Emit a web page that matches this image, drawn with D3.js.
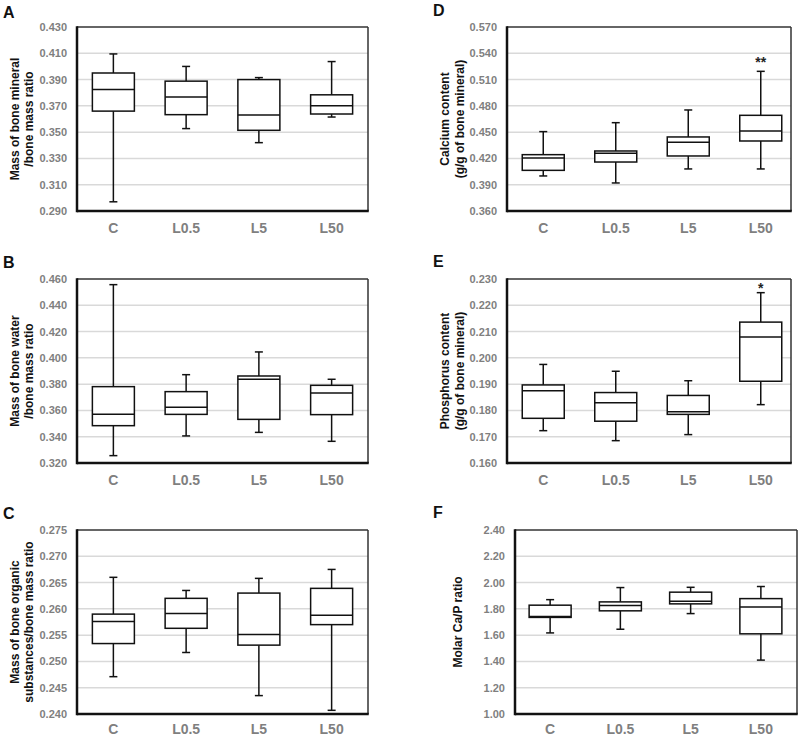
<!DOCTYPE html>
<html>
<head>
<meta charset="utf-8">
<script src="https://cdn.jsdelivr.net/npm/d3@7"></script>
<style>
  html, body { margin: 0; padding: 0; background: #fff; }
  svg { display: block; font-family: Arial, "Liberation Sans", sans-serif; }
</style>
</head>
<body>
<svg id="chart" width="800" height="736"></svg>
<script>
// ---- Data ----
const categories = ["C", "L0.5", "L5", "L50"];

// five-number summaries per group: [min, q1, median, q3, max]
const mineralStats = [
  [0.297, 0.366, 0.3825, 0.395, 0.4095],
  [0.3527, 0.3633, 0.3767, 0.3888, 0.400],
  [0.342, 0.3514, 0.363, 0.390, 0.3915],
  [0.3615, 0.3638, 0.370, 0.3784, 0.4037]
];
const waterStats = [
  [0.3256, 0.3484, 0.357, 0.3781, 0.4557],
  [0.3406, 0.357, 0.3624, 0.3743, 0.3872],
  [0.3433, 0.3532, 0.3837, 0.3862, 0.4045],
  [0.3365, 0.3568, 0.3733, 0.3791, 0.3837]
];
const organicStats = [
  [0.2471, 0.2534, 0.2576, 0.2590, 0.2660],
  [0.2517, 0.2563, 0.2591, 0.2620, 0.2635],
  [0.2435, 0.2531, 0.2551, 0.2630, 0.2658],
  [0.2407, 0.2570, 0.2588, 0.2639, 0.2675]
];
const calciumStats = [
  [0.400, 0.4064, 0.4205, 0.4243, 0.4506],
  [0.392, 0.4159, 0.4258, 0.4285, 0.4608],
  [0.408, 0.4228, 0.4384, 0.4445, 0.4753],
  [0.408, 0.4399, 0.4513, 0.4692, 0.5194]
];
const phosphorusStats = [
  [0.1723, 0.177, 0.1875, 0.1897, 0.1975],
  [0.1685, 0.1759, 0.1829, 0.1868, 0.1949],
  [0.1708, 0.1785, 0.1795, 0.1857, 0.1913],
  [0.1822, 0.1911, 0.2079, 0.2136, 0.2248]
];
const caPStats = [
  [1.617, 1.735, 1.741, 1.828, 1.870],
  [1.645, 1.785, 1.825, 1.853, 1.962],
  [1.764, 1.838, 1.858, 1.927, 1.964],
  [1.410, 1.610, 1.815, 1.878, 1.970]
];

// tick labels
const ticksA = [0.290, 0.310, 0.330, 0.350, 0.370, 0.390, 0.410, 0.430];
const ticksB = [0.320, 0.340, 0.360, 0.380, 0.400, 0.420, 0.440, 0.460];
const ticksC = [0.240, 0.245, 0.250, 0.255, 0.260, 0.265, 0.270, 0.275];
const ticksD = [0.360, 0.390, 0.420, 0.450, 0.480, 0.510, 0.540, 0.570];
const ticksE = [0.160, 0.170, 0.180, 0.190, 0.200, 0.210, 0.220, 0.230];
const ticksF = [1.00, 1.20, 1.40, 1.60, 1.80, 2.00, 2.20, 2.40];

// significance marks per group
const sigD = ["", "", "", "**"];
const sigE = ["", "", "", "*"];

// ---- Layout ----
const panels = [
  { letter: "A", stats: mineralStats, ticks: ticksA, fmt: ".3f", sig: null, sigOff: 0, xPad: 12,
    title: ["Mass of bone mineral", "/bone mass ratio"],
    fx: [77, 368], bx: [77, 368], fy: [27, 211], lx: 3, ly: 18, tx: [19, 33] },
  { letter: "B", stats: waterStats, ticks: ticksB, fmt: ".3f", sig: null, sigOff: 0, xPad: 12,
    title: ["Mass of bone water", "/bone mass ratio"],
    fx: [77, 368], bx: [77, 368], fy: [279, 463], lx: 3, ly: 268, tx: [19, 33] },
  { letter: "C", stats: organicStats, ticks: ticksC, fmt: ".3f", sig: null, sigOff: 0, xPad: 10,
    title: ["Mass of bone organic", "substances/bone mass ratio"],
    fx: [77, 368], bx: [77, 368], fy: [530, 714], lx: 3, ly: 519, tx: [19, 33] },
  { letter: "D", stats: calciumStats, ticks: ticksD, fmt: ".3f", sig: sigD, sigOff: -4, xPad: 12,
    title: ["Calcium content", "(g/g of bone mineral)"],
    fx: [507, 791], bx: [507, 797], fy: [27, 211], lx: 433, ly: 16, tx: [449, 464] },
  { letter: "E", stats: phosphorusStats, ticks: ticksE, fmt: ".3f", sig: sigE, sigOff: 0, xPad: 12,
    title: ["Phosphorus content", "(g/g of bone mineral)"],
    fx: [507, 791], bx: [507, 797], fy: [279, 463], lx: 433, ly: 267, tx: [449, 464] },
  { letter: "F", stats: caPStats, ticks: ticksF, fmt: ".2f", sig: null, sigOff: 0, xPad: 10,
    title: ["Molar Ca/P ratio"],
    fx: [515, 797], bx: [515, 796], fy: [530, 714], lx: 433, ly: 518, tx: [462] }
];

const svg = d3.select("#chart");
const tickColor = "#7f7f7f";
const boxW = 42, capW = 8;

panels.forEach(p => {
  const g = svg.append("g");
  const ticks = p.ticks;
  const y = d3.scaleLinear().domain([ticks[0], ticks[ticks.length - 1]]).range([p.fy[1], p.fy[0]]);
  const x = d3.scaleBand().domain(categories).range(p.bx).padding(0);

  // gridlines
  g.selectAll("line.grid").data(ticks.slice(1, -1)).enter().append("line")
    .attr("x1", p.fx[0]).attr("x2", p.fx[1])
    .attr("y1", d => y(d)).attr("y2", d => y(d))
    .attr("stroke", "#d9d9d9").attr("stroke-width", 1.5);

  // y axis labels
  const yAxis = d3.axisLeft(y).tickValues(ticks).tickFormat(d3.format(p.fmt)).tickSize(0).tickPadding(10);
  const ya = g.append("g").attr("transform", `translate(${p.fx[0]},0)`).call(yAxis);
  ya.select(".domain").remove();
  ya.selectAll("text").attr("fill", tickColor).attr("font-size", 11).attr("font-weight", "bold")
    .attr("font-family", "Arial, 'Liberation Sans', sans-serif");

  // x axis labels
  const xAxis = d3.axisBottom(x).tickSize(0).tickPadding(p.xPad);
  const xa = g.append("g").attr("transform", `translate(0,${p.fy[1]})`).call(xAxis);
  xa.select(".domain").remove();
  xa.selectAll("text").attr("fill", tickColor).attr("font-size", 14).attr("font-weight", "bold")
    .attr("font-family", "Arial, 'Liberation Sans', sans-serif");

  // frame
  g.append("line").attr("x1", p.fx[0]).attr("x2", p.fx[1]).attr("y1", p.fy[0]).attr("y2", p.fy[0])
    .attr("stroke", "#333").attr("stroke-width", 1.5);
  g.append("line").attr("x1", p.fx[1]).attr("x2", p.fx[1]).attr("y1", p.fy[0]).attr("y2", p.fy[1])
    .attr("stroke", "#333").attr("stroke-width", 1.5);
  g.append("line").attr("x1", p.fx[0]).attr("x2", p.fx[0]).attr("y1", p.fy[0] - 0.75).attr("y2", p.fy[1] + 1.25)
    .attr("stroke", "#111").attr("stroke-width", 2.5);
  g.append("line").attr("x1", p.fx[0]).attr("x2", p.fx[1] + 0.75).attr("y1", p.fy[1]).attr("y2", p.fy[1])
    .attr("stroke", "#111").attr("stroke-width", 2.5);

  // boxes
  const groups = g.selectAll("g.box").data(p.stats).enter().append("g")
    .attr("transform", (d, i) => `translate(${x(categories[i]) + x.bandwidth() / 2},0)`);
  // whiskers
  groups.append("line").attr("x1", 0).attr("x2", 0).attr("y1", d => y(d[4])).attr("y2", d => y(d[3]))
    .attr("stroke", "#111").attr("stroke-width", 1.5);
  groups.append("line").attr("x1", 0).attr("x2", 0).attr("y1", d => y(d[1])).attr("y2", d => y(d[0]))
    .attr("stroke", "#111").attr("stroke-width", 1.5);
  // caps
  groups.append("line").attr("x1", -capW / 2).attr("x2", capW / 2).attr("y1", d => y(d[4])).attr("y2", d => y(d[4]))
    .attr("stroke", "#111").attr("stroke-width", 1.5);
  groups.append("line").attr("x1", -capW / 2).attr("x2", capW / 2).attr("y1", d => y(d[0])).attr("y2", d => y(d[0]))
    .attr("stroke", "#111").attr("stroke-width", 1.5);
  // box
  groups.append("rect").attr("x", -boxW / 2).attr("width", boxW)
    .attr("y", d => y(d[3])).attr("height", d => y(d[1]) - y(d[3]))
    .attr("fill", "#fff").attr("stroke", "#111").attr("stroke-width", 1.5);
  // median
  groups.append("line").attr("x1", -boxW / 2).attr("x2", boxW / 2).attr("y1", d => y(d[2])).attr("y2", d => y(d[2]))
    .attr("stroke", "#111").attr("stroke-width", 1.5);

  // significance
  if (p.sig) {
    groups.append("text").attr("text-anchor", "middle")
      .attr("x", 0).attr("y", d => y(d[4]) + p.sigOff)
      .attr("font-size", 14).attr("font-weight", "bold").attr("fill", "#222")
      .text((d, i) => p.sig[i]);
  }

  // y title
  const cy = (p.fy[0] + p.fy[1]) / 2;
  p.title.forEach((t, k) => {
    g.append("text").attr("transform", `translate(${p.tx[k]},${cy}) rotate(-90)`)
      .attr("text-anchor", "middle").attr("font-size", 12).attr("font-weight", "bold").attr("fill", "#111")
      .text(t);
  });

  // panel letter
  g.append("text").attr("x", p.lx).attr("y", p.ly).attr("font-size", 16).attr("font-weight", "bold")
    .attr("fill", "#111").text(p.letter);
});
</script>
</body>
</html>
